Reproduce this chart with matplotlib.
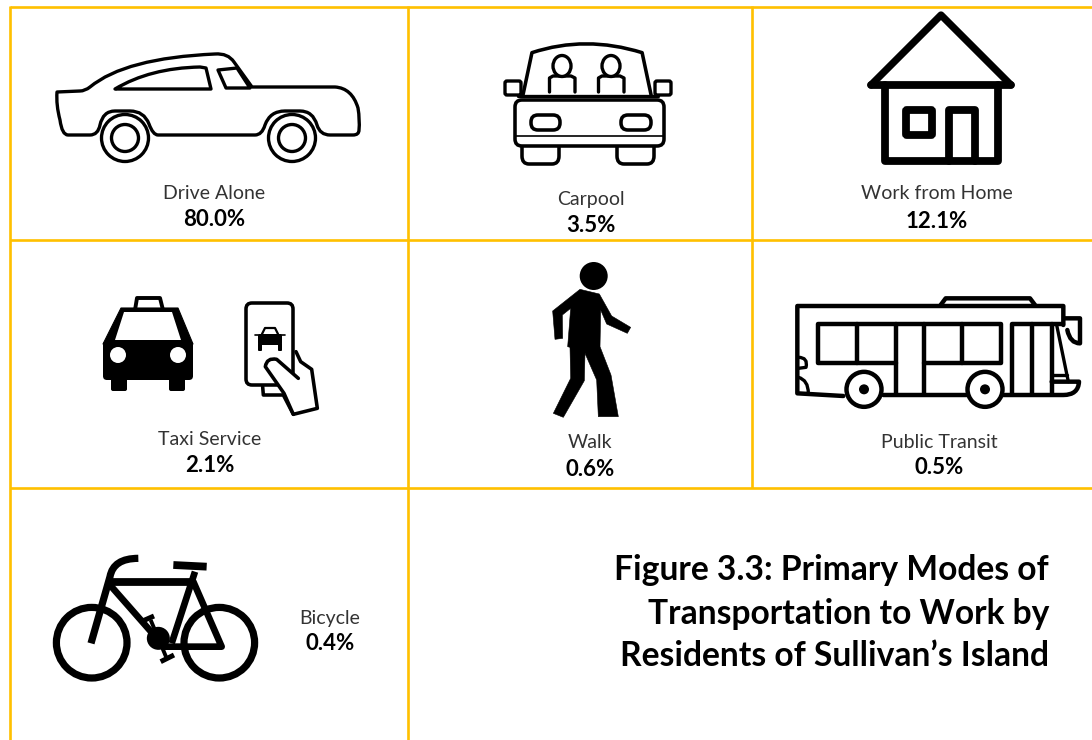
import matplotlib
matplotlib.use("Agg")
import matplotlib.pyplot as plt
from matplotlib.path import Path
from matplotlib.patches import PathPatch, Circle, Ellipse, FancyBboxPatch, Polygon

modes = ["Drive Alone", "Carpool", "Work from Home", "Taxi Service", "Walk", "Public Transit", "Bicycle"]
shares = ["80.0%", "3.5%", "12.1%", "2.1%", "0.6%", "0.5%", "0.4%"]
title_lines = ["Figure 3.3: Primary Modes of", "Transportation to Work by", "Residents of Sullivan\u2019s Island"]

# where the captions sit, in pixels of the picture
label_pos = [(214, 193.5), (591, 199.5), (937, 193.5), (210, 439.5), (590, 442.5), (939, 442.5), (330, 618.5)]
share_pos = [(214, 220), (591, 226), (937, 221), (210, 466), (590, 469), (939, 468), (330, 644)]

GOLD = "#FFC000"
FONT = "Lato"

fig = plt.figure(figsize=(10.92, 7.4), dpi=100)
ax = fig.add_axes([0, 0, 1, 1])
ax.set_xlim(0, 1092)
ax.set_ylim(740, 0)
ax.axis("off")


def px(w):
    return w * 0.8


def stroke(pts, lw=3, close=False, fill="none", color="black", cap="round", z=3):
    # points are (x,y) for a line or (cx,cy,x,y) for a quadratic curve
    verts = [pts[0]]
    codes = [Path.MOVETO]
    for p in pts[1:]:
        if len(p) == 2:
            verts.append(p)
            codes.append(Path.LINETO)
        else:
            verts += [(p[0], p[1]), (p[2], p[3])]
            codes += [Path.CURVE3, Path.CURVE3]
    if close:
        verts.append(pts[0])
        codes.append(Path.CLOSEPOLY)
    ax.add_patch(PathPatch(Path(verts, codes), fc=fill, ec=color, lw=px(lw), capstyle=cap, joinstyle="round", zorder=z))


def ring(x, y, r, lw=3, fill="white", z=4):
    ax.add_patch(Circle((x, y), r, fc=fill, ec="black", lw=px(lw), zorder=z))


def box(x0, y0, x1, y1, rad=3, lw=3, fill="none", z=3):
    ax.add_patch(FancyBboxPatch((x0 + rad, y0 + rad), x1 - x0 - 2 * rad, y1 - y0 - 2 * rad,
                                boxstyle=f"round,pad={rad},rounding_size={rad}",
                                fc=fill, ec="black", lw=px(lw), zorder=z))


def zoomed(x0, y0, sx, sy, pts):
    out = []
    for p in pts:
        if len(p) == 2:
            out.append((x0 + p[0] / sx, y0 + p[1] / sy))
        else:
            out.append((x0 + p[0] / sx, y0 + p[1] / sy, x0 + p[2] / sx, y0 + p[3] / sy))
    return out


# grid of the panel
for y, x0, x1 in [(7, 10, 1092), (240, 10, 1092), (487.5, 10, 1092)]:
    ax.plot([x0, x1], [y, y], color=GOLD, lw=px(2.4), solid_capstyle="butt", zorder=1)
for x, y0, y1 in [(10, 6, 740), (408, 6, 740), (752, 6, 488)]:
    ax.plot([x, x], [y0, y1], color=GOLD, lw=px(2.4), solid_capstyle="butt", zorder=1)


def draw_car():
    stroke([(57, 92), (80, 91), (85, 91, 90, 87), (125, 58, 215, 54), (228, 53, 234, 62), (252, 87),
            (335, 87), (352, 88, 358, 108), (360, 120, 359, 130), (359, 135, 353, 135), (330, 135),
            (320, 135, 317, 125), (313, 111, 300, 111), (285, 111), (270, 111, 265, 125), (262, 135, 255, 135),
            (158, 135), (153, 135, 149, 124), (144, 111, 130, 111), (115, 111), (103, 111, 100, 125), (98, 135, 90, 135),
            (68, 135), (62, 135, 60, 120), (56, 105, 57, 92)], lw=3, close=True)
    stroke([(115, 89), (150, 68, 200, 67), (206, 68), (211, 89)], lw=3, close=True)
    stroke([(218, 70), (237, 68), (250, 88), (226, 88)], lw=3, close=True)
    for cx in (125, 292):
        ring(cx, 138, 23.5, lw=3)
        ring(cx, 138, 13.5, lw=3)


def draw_carpool():
    x0, sx = 480, 2.56
    stroke(zoomed(x0, 0, sx, 3, [(110, 285), (133, 158), (270, 105, 415, 158), (438, 285)]), lw=3.2)
    stroke(zoomed(x0, 0, sx, 3, [(97, 288), (455, 288)]), lw=3)
    box(505, 81, 521, 95, rad=2, lw=3)
    box(655, 81, 671, 95, rad=2, lw=3)
    for hx in (562, 611):
        ax.add_patch(Ellipse((hx, 66), 18, 21, fc="white", ec="black", lw=px(3), zorder=4))
        stroke([(hx - 12.5, 92), (hx - 12.5, 78), (hx - 9, 76), (hx + 9, 76), (hx + 13, 78), (hx + 13, 92)], lw=3)
    box(515, 100, 664, 146, rad=7, lw=3.2)
    stroke([(515, 136), (664, 136)], lw=1.5)
    box(531, 115, 560, 130, rad=7, lw=3.2)
    box(621, 115, 651, 130, rad=7, lw=3.2)
    for a, b in [(522, 559), (617, 654)]:
        stroke([(a, 147), (a, 156), (a, 164, a + 7, 164), (b - 7, 164), (b, 164, b, 156), (b, 147)], lw=3.2)


def draw_house():
    stroke([(871, 85), (941, 15), (1011, 85)], lw=6.5)
    stroke([(871, 85), (1011, 85)], lw=7)
    stroke([(885, 85), (885, 161), (998, 161), (998, 85)], lw=7)
    box(906, 110, 932, 135, rad=1, lw=7)
    stroke([(949, 161), (949, 110), (975, 110), (975, 161)], lw=7)


def draw_taxi():
    stroke([(135, 310), (137, 298), (160, 298), (163, 310)], lw=3.5)
    ax.add_patch(Polygon([(121, 308), (178, 308), (193, 344), (103, 344)], fc="black", ec="black", lw=px(1), joinstyle="round", zorder=3))
    ax.add_patch(Polygon([(124, 312), (172, 312), (181, 340), (115, 340)], fc="white", ec="none", zorder=4))
    box(103, 341, 193, 380, rad=4, lw=0, fill="black")
    box(111, 376, 127, 391, rad=2, lw=0, fill="black")
    box(169, 376, 185, 391, rad=2, lw=0, fill="black")
    ring(118, 355, 8, lw=0)
    ring(178, 355, 8, lw=0)
    # phone and hand
    box(246, 303, 293, 385, rad=6, lw=3.2)
    box(258, 334, 282, 345, rad=2, lw=0, fill="black")
    stroke([(262, 334), (265, 328), (275, 328), (278, 334)], lw=2)
    stroke([(255, 335), (285, 335)], lw=1.5)
    box(258, 343, 262, 351, rad=1, lw=0, fill="black")
    box(278, 343, 282, 351, rad=1, lw=0, fill="black")
    hand = zoomed(80, 280, 3, 3, [(648, 215), (662, 245), (695, 268), (712, 385), (640, 403),
                                  (610, 345), (550, 345), (548, 320), (500, 310)])
    stroke(hand[:5] + hand[5:8], lw=3.2)
    stroke(zoomed(80, 280, 3, 3, [(655, 295), (590, 238), (560, 232, 556, 260), (612, 340), (640, 403)]), lw=3.2, fill="white", z=4)


def draw_walk():
    ring(593.7, 276, 14, lw=0, fill="black")
    body = [(150, 118), (208, 132), (245, 198), (302, 232), (292, 250), (230, 222), (212, 180), (210, 290),
            (243, 375), (265, 500), (205, 500), (200, 390), (165, 310), (163, 392), (100, 502), (70, 490),
            (122, 385), (120, 292), (113, 290), (122, 175), (97, 195), (98, 265), (75, 268), (68, 183)]
    ax.add_patch(Polygon(zoomed(530, 250, 3, 3, body), fc="black", ec="black", lw=px(0.5), zorder=3))


def draw_bus():
    z = lambda pts: zoomed(780, 280, 3, 3, pts)
    lw = 4
    stroke(z([(190, 348), (52, 340), (52, 78), (850, 78), (850, 135)]), lw=lw)
    stroke(z([(482, 75), (497, 55), (750, 55), (765, 75)]), lw=lw)
    stroke(z([(347, 248), (113, 248), (113, 132), (662, 132), (662, 248), (432, 248)]), lw=lw)
    stroke(z([(232, 132), (232, 248)]), lw=lw)
    stroke(z([(547, 132), (547, 248)]), lw=lw)
    stroke(z([(347, 132), (347, 340)]), lw=lw)
    stroke(z([(432, 132), (432, 340)]), lw=lw)
    stroke(z([(695, 340), (695, 132), (850, 132)]), lw=lw)
    stroke(z([(755, 132), (755, 340)]), lw=lw)
    stroke(z([(815, 132), (815, 340)]), lw=lw)
    stroke(z([(830, 135), (865, 305)]), lw=lw - 1)
    stroke(z([(815, 305), (897, 305), (895, 345, 850, 345), (310, 345)]), lw=lw)
    stroke(z([(820, 285), (860, 285)]), lw=lw - 1)
    stroke(z([(855, 115), (900, 115), (900, 190), (870, 190, 862, 150)]), lw=lw)
    stroke(z([(55, 232), (85, 232, 78, 262), (55, 265)]), lw=lw - 1)
    stroke(z([(55, 292), (85, 300, 85, 340)]), lw=lw - 1)
    for zx in (252, 615):
        cx, cy = 780 + zx / 3, 280 + 328 / 3
        ring(cx, cy, 17.5, lw=4)
        ring(cx, cy, 5, lw=0, fill="black")


def draw_bike():
    z = lambda pts: zoomed(30, 540, 3, 3, pts)
    lw = 6.5
    for cx in (91.7, 219.3):
        ring(cx, 642.7, 35.3, lw=lw, fill="none", z=3)
    stroke(z([(183, 310), (240, 110), (250, 55, 325, 55)]), lw=lw, cap="butt")
    stroke(z([(245, 127), (490, 127)]), lw=lw + 0.5, cap="butt")
    stroke(z([(240, 135), (385, 300)]), lw=lw - 0.5)
    stroke(z([(495, 95), (425, 310)]), lw=lw - 0.5, cap="butt")
    stroke(z([(405, 320), (575, 320), (490, 125)]), lw=lw - 0.5)
    stroke(z([(430, 75), (530, 80)]), lw=lw + 0.5, cap="butt")
    ring(30 + 385 / 3, 540 + 295 / 3, 11.5, lw=0, fill="black")
    stroke(z([(362, 240), (410, 355)]), lw=3.5, cap="butt")
    stroke(z([(340, 242), (372, 228)]), lw=4.5, cap="butt")
    stroke(z([(392, 365), (432, 345)]), lw=4.5, cap="butt")


draw_car()
draw_carpool()
draw_house()
draw_taxi()
draw_walk()
draw_bus()
draw_bike()

for name, share, lp, sp in zip(modes, shares, label_pos, share_pos):
    ax.text(lp[0], lp[1], name, family=FONT, fontweight="normal", fontsize=14, color="#333333", ha="center", va="center")
    ax.text(sp[0], sp[1], share, family=FONT, fontweight="bold", fontsize=16, color="black", ha="center", va="center")

for line, y in zip(title_lines, [570, 614, 656]):
    ax.text(1049, y, line, family=FONT, fontweight="bold", fontsize=24.2, color="black", ha="right", va="center")

fig.savefig("out.png", dpi=100)
